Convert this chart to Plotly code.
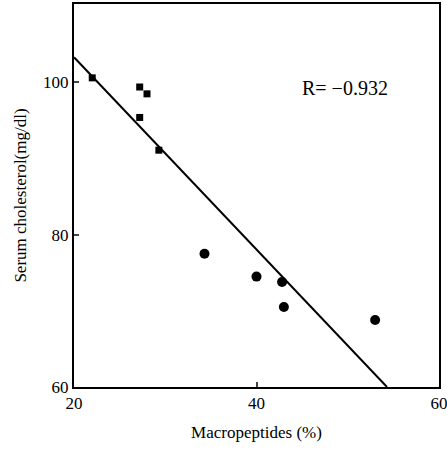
import plotly.graph_objects as go

# Data
sq_x = [22.0, 27.2, 28.0, 27.2, 29.3]
sq_y = [100.6, 99.4, 98.5, 95.4, 91.1]
circ_x = [34.3, 40.0, 42.8, 43.0, 53.0]
circ_y = [77.5, 74.5, 73.8, 70.5, 68.8]
fit_x = [20.0, 54.3]
fit_y = [103.3, 60.0]
x_ticks = [20, 40, 60]
y_ticks = [60, 80, 100]
r_label = "R= \u22120.932"

FONT = "Liberation Serif"

fig = go.Figure()
fig.add_trace(go.Scatter(x=fit_x, y=fit_y, mode="lines",
                         line=dict(color="black", width=2), showlegend=False))
fig.add_trace(go.Scatter(x=sq_x, y=sq_y, mode="markers",
                         marker=dict(symbol="square", size=7, color="black"), showlegend=False))
fig.add_trace(go.Scatter(x=circ_x, y=circ_y, mode="markers",
                         marker=dict(symbol="circle", size=10, color="black"), showlegend=False))

fig.add_annotation(x=49.7, y=99.3, text=r_label, showarrow=False,
                   font=dict(family=FONT, size=20, color="black"))

fig.update_layout(
    width=447, height=455,
    margin=dict(l=74, r=8, t=4, b=68),
    paper_bgcolor="white", plot_bgcolor="white",
    font=dict(family=FONT, color="black", size=15),
    xaxis=dict(range=[20, 60], tickvals=x_ticks, ticks="inside", ticklen=5,
               tickwidth=2, showgrid=False, zeroline=False, showline=True,
               linecolor="black", linewidth=2, mirror=True, automargin=False,
               ticklabeloverflow="allow",
               title=dict(text="Macropeptides (%)", font=dict(size=17), standoff=14),
               tickfont=dict(size=17, family=FONT)),
    yaxis=dict(range=[60, 110.3], tickvals=y_ticks, ticks="inside", ticklen=5,
               tickwidth=2, showgrid=False, zeroline=False, showline=True,
               linecolor="black", linewidth=2, mirror=True, automargin=False,
               ticklabeloverflow="allow",
               title=dict(text="Serum cholesterol(mg/dl)", font=dict(size=17), standoff=12),
               tickfont=dict(size=17, family=FONT)),
)

fig.write_html("out.html", config={"displayModeBar": False})

# remove the default page margin so the figure fills the window exactly
with open("out.html", "r", encoding="utf-8") as f:
    html = f.read()
html = html.replace("<head>", "<head><style>body{margin:0;overflow:hidden}</style>", 1)
with open("out.html", "w", encoding="utf-8") as f:
    f.write(html)
